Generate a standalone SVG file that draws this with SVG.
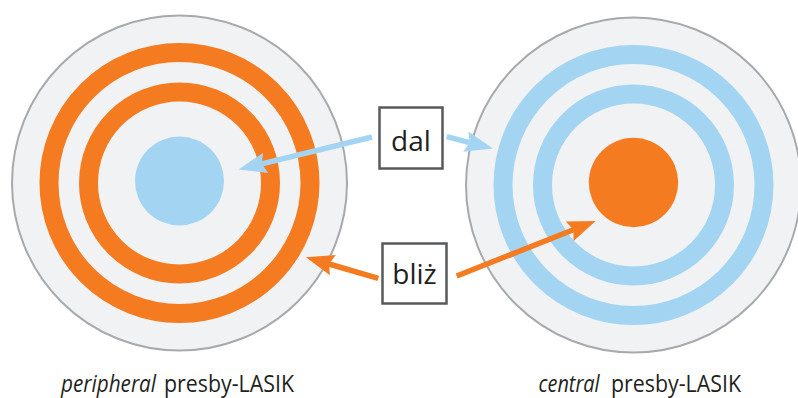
<svg xmlns="http://www.w3.org/2000/svg" width="798" height="398" viewBox="0 0 798 398">
<style>
.lens{fill:#F1F2F4;stroke:#A7A9AC;stroke-width:2}
.ro{fill:none;stroke:#F47B20;stroke-width:19}
.rb{fill:none;stroke:#A3D5F2;stroke-width:19}
.box{fill:#FFFFFF;stroke:#58595B;stroke-width:2.5}
.lbl{font-family:"Open Sans","Noto Sans",sans-serif;font-size:28px;fill:#231F20;text-anchor:middle}
.cap{font-family:"Open Sans","Noto Sans",sans-serif;font-size:24px;fill:#231F20}
.it{font-style:italic}
.cb{fill:none;stroke:#A3D5F2;stroke-width:5.5}
.co{fill:none;stroke:#F47B20;stroke-width:5.5}
</style>
<defs>
<marker id="hb" markerUnits="userSpaceOnUse" markerWidth="30" markerHeight="24" viewBox="0 -12 30 24" refX="4" refY="0" orient="auto">
<path d="M0,-10.5 L28,0 L0,10.5 L4,0 Z" fill="#A3D5F2"/>
</marker>
<marker id="ho" markerUnits="userSpaceOnUse" markerWidth="30" markerHeight="24" viewBox="0 -12 30 24" refX="4" refY="0" orient="auto">
<path d="M0,-10.5 L28,0 L0,10.5 L4,0 Z" fill="#F47B20"/>
</marker>
</defs>
<g id="peripheral">
<circle class="lens" cx="179.5" cy="183" r="167.5"/>
<circle class="ro" cx="179.5" cy="183" r="130.5"/>
<circle class="ro" cx="179.5" cy="183" r="91"/>
<circle cx="179.5" cy="181" r="44.5" fill="#A3D5F2"/>
<text class="cap it" x="61" y="392" textLength="95" lengthAdjust="spacingAndGlyphs">peripheral</text>
<text class="cap" x="164" y="392" textLength="130" lengthAdjust="spacingAndGlyphs">presby-LASIK</text>
</g>
<g id="central">
<circle class="lens" cx="633.5" cy="185" r="167.5"/>
<circle class="rb" cx="633.5" cy="185" r="130.5"/>
<circle class="rb" cx="633.5" cy="185" r="91"/>
<circle cx="633.5" cy="182.5" r="44.7" fill="#F47B20"/>
<text class="cap it" x="538.5" y="392" textLength="61" lengthAdjust="spacingAndGlyphs">central</text>
<text class="cap" x="611" y="392" textLength="130" lengthAdjust="spacingAndGlyphs">presby-LASIK</text>
</g>
<g id="connectors">
<line class="cb" x1="372" y1="137" x2="261.8" y2="163.8" marker-end="url(#hb)"/>
<line class="cb" x1="446.7" y1="136.7" x2="469.7" y2="142.6" marker-end="url(#hb)"/>
<line class="co" x1="378.3" y1="278.3" x2="329" y2="264" marker-end="url(#ho)"/>
<line class="co" x1="456.7" y1="276" x2="573.4" y2="229.8" marker-end="url(#ho)"/>
</g>
<g id="dal">
<rect class="box" x="379.5" y="107.5" width="63" height="61"/>
<text class="lbl" x="411" y="151">dal</text>
</g>
<g id="bliz">
<rect class="box" x="382.5" y="243.5" width="64" height="60"/>
<text class="lbl" x="414.5" y="284">bliż</text>
</g>
</svg>
